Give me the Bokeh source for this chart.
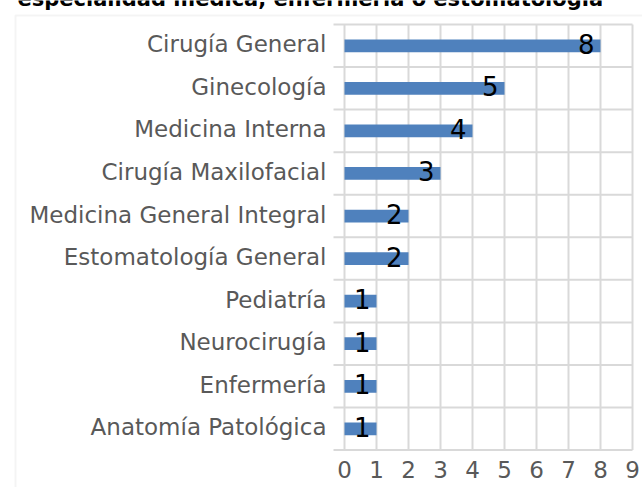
from bokeh.plotting import figure
from bokeh.models import Range1d, ColumnDataSource, Label, BoxAnnotation
from bokeh.core.properties import value
from bokeh.embed import file_html
from bokeh.resources import INLINE

# ---- data ----
categories = ["Cirugía General", "Ginecología", "Medicina Interna", "Cirugía Maxilofacial",
              "Medicina General Integral", "Estomatología General", "Pediatría",
              "Neurocirugía", "Enfermería", "Anatomía Patológica"]
values = [8, 5, 4, 3, 2, 2, 1, 1, 1, 1]
x_ticks = [0, 1, 2, 3, 4, 5, 6, 7, 8, 9]
title_text = "especialidad médica, enfermería o estomatología"

# ---- style / layout constants ----
W, H = 642, 487
FONT = "DejaVu Sans"
GRID = "#d9d9d9"
TXT = "#595959"
BAR = "#4f81bd"
X0_PX, XUNIT_PX = 344.0, 32.0        # pixel of x=0, pixels per unit
Y0_PX, YUNIT_PX = 449.6, 42.56       # pixel of y=0 (bottom row edge), pixels per row
BASE_FIX = 9.5                       # renderer's baseline shift, px


def px_x(px):
    return (px - X0_PX) / XUNIT_PX


def px_y(px):
    return (Y0_PX - px) / YUNIT_PX


n = len(categories)
ypos = [n - 0.5 - i for i in range(n)]
src = ColumnDataSource(dict(cat=categories, val=values, y=ypos,
                            lbl=[str(v) for v in values]))

p = figure(width=W, height=H,
           x_range=Range1d(px_x(0), px_x(W)), y_range=Range1d(px_y(H), px_y(0)),
           output_backend="svg", toolbar_location=None,
           min_border=0, min_border_left=0, min_border_right=0,
           min_border_top=0, min_border_bottom=0)
p.axis.visible = False
p.grid.visible = False
p.outline_line_color = None
p.background_fill_color = "white"
p.border_fill_color = "white"

grid_left = px_x(333)
x_max = x_ticks[-1]

# gridlines: category boundaries (horizontal) and value ticks (vertical)
h_xs = [[grid_left, x_max] for b in range(n + 1)]
h_ys = [[float(b), float(b)] for b in range(n + 1)]
v_xs = [[float(t), float(t)] for t in x_ticks]
v_ys = [[0.0, float(n)] for t in x_ticks]
p.multi_line(xs=h_xs + v_xs, ys=h_ys + v_ys, line_color=GRID, line_width=2)

# bars
p.hbar(y="y", right="val", left=0, height=0.3, source=src,
       fill_color=BAR, line_color=None)

# data labels (inside end)
p.text(x="val", y="y", text="lbl", source=src, x_offset=-6, y_offset=9 - 11,
       text_align="right", text_baseline="alphabetic",
       text_font=value(FONT), text_font_size="26px", text_color="black")

# category labels (y axis)
p.text(x=[grid_left] * n, y=ypos, text=categories, x_offset=-7, y_offset=8 - BASE_FIX,
       text_align="right", text_baseline="alphabetic",
       text_font=value(FONT), text_font_size="23px", text_color=TXT)

# value tick labels (x axis)
tick_y = px_y(478 - BASE_FIX)
p.text(x=x_ticks, y=[tick_y] * len(x_ticks), text=[str(t) for t in x_ticks],
       text_align="center", text_baseline="alphabetic",
       text_font=value(FONT), text_font_size="23px", text_color=TXT)

# chart-area border (extends beyond the visible window on the right/bottom)
p.add_layout(BoxAnnotation(left=px_x(15), right=px_x(W + 50), top=px_y(15),
                           bottom=px_y(H + 50), fill_color=None,
                           line_color=GRID, line_width=2, level="underlay"))

# title, cut off by the top edge as in the reference
p.add_layout(Label(x=px_x(17), y=px_y(7 - 8.7), text=title_text,
                   text_font=FONT, text_font_style="bold", text_font_size="21px",
                   text_baseline="alphabetic", text_color="black"))

open("out.html", "w").write(file_html(p, INLINE))
